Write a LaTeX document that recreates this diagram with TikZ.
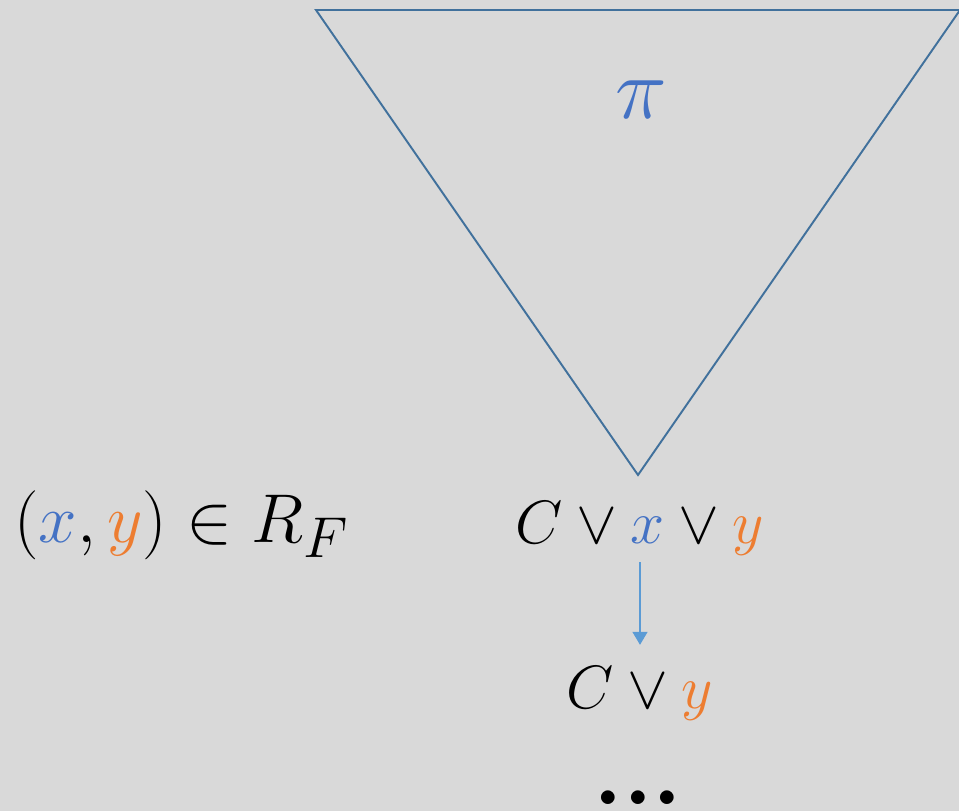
\documentclass[tikz,border=0pt]{standalone}
\usepackage{amsmath, amssymb}
\usepackage{xcolor}
\usepackage{tikz}
\usetikzlibrary{arrows.meta}
\definecolor{bgGray}{HTML}{D9D9D9}
\definecolor{triBlue}{HTML}{41719C}
\definecolor{varBlue}{HTML}{4472C4}
\definecolor{varOrange}{HTML}{ED7D31}
\definecolor{arrBlue}{HTML}{5B9BD5}
\newcommand{\vx}{\textcolor{varBlue}{x}}
\newcommand{\vy}{\textcolor{varOrange}{y}}
\newcommand{\bigmath}[2]{\scalebox{#1}{$#2$}}

\begin{document}
\begin{tikzpicture}[x=0.02cm, y=-0.02cm,
  lbl/.style={inner sep=0pt, anchor=base, font=\fontsize{24.88}{28}\selectfont},
  >={Triangle[length=0.26cm, width=0.3cm]}]
\useasboundingbox (0,0) rectangle (959,811);
\fill[bgGray] (0,0) rectangle (959,811);
\clip (0,0) rectangle (959,811);
\coordinate (tl) at (316,10);
\coordinate (tr) at (960,10);
\coordinate (apex) at (638,475);
\draw[triBlue, line width=1.1pt] (tl) -- (tr) -- (apex) -- cycle;
\node[lbl, text=varBlue] (pi) at (641,118) {\bigmath{2.0}{\pi}};
\node[lbl, anchor=base west] (rel) at (14,542) {\bigmath{1.58}{(\vx, \vy) \in R_F}};
\node[lbl] (cxy) at (640,543) {\bigmath{1.4}{C \vee \vx \vee \vy}};
\node[lbl] (cy) at (640,708) {\bigmath{1.4}{C \vee \vy}};
\node[lbl, font=\fontsize{54}{58}\bfseries] (dots) at (638,804) {...};
\draw[->, arrBlue, line width=0.8pt, shorten <=0.14cm, shorten >=0.42cm] (cxy) -- (cy);
\end{tikzpicture}
\end{document}
